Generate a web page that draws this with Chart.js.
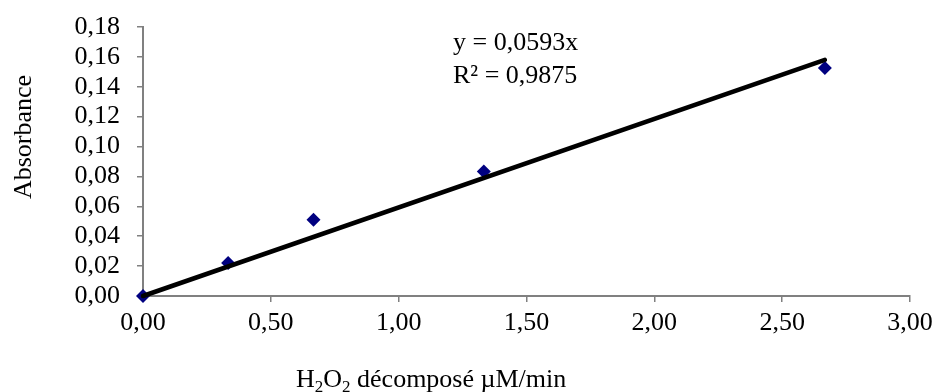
<!DOCTYPE html>
<html>
<head>
<meta charset="utf-8">
<script src="https://cdn.jsdelivr.net/npm/chart.js@4"></script>
<style>
  html, body { margin:0; padding:0; background:#fff; }
  #wrap { width:934px; height:392px; position:relative; }
</style>
</head>
<body>
<div id="wrap"><canvas id="ch"></canvas></div>
<script>
// data
const xVals   = [0, 0.333, 0.667, 1.333, 2.667];
const yVals   = [0, 0.0221, 0.0511, 0.0833, 0.1526];
const trendX  = [0, 2.667];
const trendY  = [0, 0.158];
const eqLines = ['y = 0,0593x', 'R² = 0,9875'];
const yTitle  = 'Absorbance';
const xTitleParts = [['H',0],['2',1],['O',0],['2',1],[' décomposé µM/min',0]];

const FONT = "'Liberation Serif', 'Times New Roman', serif";
const fmt  = v => Number(v).toFixed(2).replace('.', ',');

const textPlugin = {
  id:'texts',
  afterDraw(chart) {
    const c = chart.ctx;
    c.save();
    c.fillStyle = '#000';
    c.font = '26px ' + FONT;
    c.textBaseline = 'alphabetic';
    c.textAlign = 'left';
    // trendline equation
    c.fillText(eqLines[0], 453, 50);
    c.fillText(eqLines[1], 453, 83);
    // x title with subscripts
    let x = 296;
    xTitleParts.forEach(([t, sub]) => {
      c.font = (sub ? '17px ' : '26px ') + FONT;
      c.fillText(t, x, sub ? 392 : 387);
      x += c.measureText(t).width;
    });
    // y title
    c.font = '26px ' + FONT;
    c.translate(24, 137);
    c.rotate(-Math.PI/2);
    c.textAlign = 'center';
    c.textBaseline = 'middle';
    c.fillText(yTitle, 0, 0);
    c.restore();
  }
};

new Chart(document.getElementById('ch'), {
  type:'scatter',
  data:{ datasets:[
    { type:'line', data:trendX.map((v,i)=>({x:v, y:trendY[i]})),
      borderColor:'#000', borderWidth:4.5, borderCapStyle:'round', pointRadius:0, fill:false, clip:false, order:0 },
    { data:xVals.map((v,i)=>({x:v, y:yVals[i]})),
      pointStyle:'rectRot', pointRadius:7, pointHoverRadius:7,
      backgroundColor:'#000080', borderColor:'#000080', borderWidth:0, clip:false, order:1 },
  ]},
  options:{ responsive:true, maintainAspectRatio:false, animation:false,
    layout:{ padding:{ top:27, right:24, left:0, bottom:0 } },
    plugins:{ legend:{ display:false }, tooltip:{ enabled:false } },
    scales:{
      x:{ type:'linear', min:0, max:3,
        afterFit:s=>{ s.height = 96; s.paddingLeft = 0; s.paddingRight = 0; },
        border:{ color:'#808080', width:2 },
        grid:{ drawOnChartArea:false, drawTicks:true, tickLength:6, color:'#808080', lineWidth:1.5 },
        ticks:{ stepSize:0.5, padding:8, autoSkip:false, color:'#000', font:{ family:FONT, size:26, lineHeight:1 }, callback:fmt, maxRotation:0 } },
      y:{ type:'linear', min:0, max:0.18,
        afterFit:s=>{ s.width = 143; s.paddingTop = 0; s.paddingBottom = 0; },
        border:{ color:'#808080', width:2 },
        grid:{ drawOnChartArea:false, drawTicks:true, tickLength:6, color:'#808080', lineWidth:1.5 },
        ticks:{ stepSize:0.02, padding:17, autoSkip:false, color:'#000', font:{ family:FONT, size:26, lineHeight:1 }, callback:fmt } },
    } },
  plugins:[textPlugin],
});
</script>
</body>
</html>
